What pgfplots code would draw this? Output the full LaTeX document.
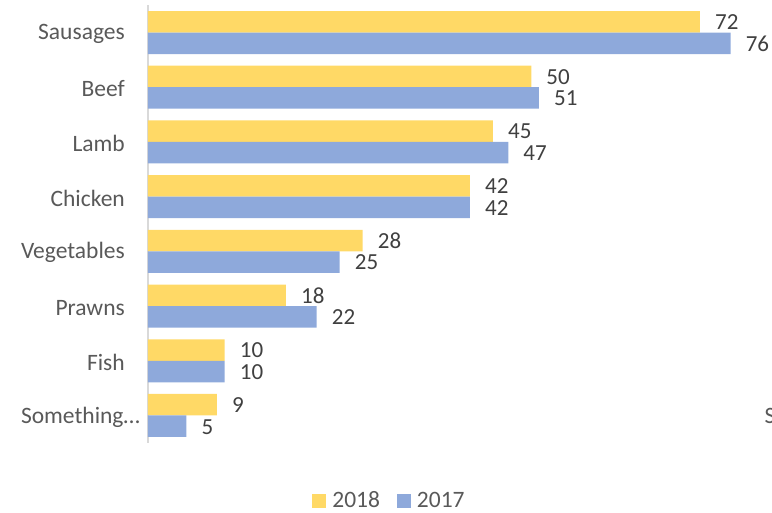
\documentclass[border=0pt]{standalone}
\usepackage{fontspec}
\setmainfont{Carlito}
\usepackage{pgfplots}
\pgfplotsset{compat=1.18}
\definecolor{cy}{HTML}{FFD966}
\definecolor{cb}{HTML}{8EA9DB}
\definecolor{txt}{HTML}{595959}
\definecolor{lbl}{HTML}{404040}
\begin{document}
\begin{tikzpicture}
\path[use as bounding box] (-148pt,-70.15pt) rectangle (624pt,442.85pt);
\begin{axis}[
 scale only axis, width=624pt, height=437.7pt,
 xbar, xmin=0, xmax=81.4, ymin=-0.5, ymax=7.5, y dir=reverse,
 axis x line=none, axis y line*=left,
 y axis line style={draw=black!15, -, line width=1.2pt},
 ytick={0,...,7},
 yticklabels={Sausages,Beef,Lamb,Chicken,Vegetables,Prawns,Fish,Something…\hspace*{-15pt}},
 major tick length=0pt,
 yticklabel style={font=\fontsize{23.5}{28}\selectfont, text=txt, inner sep=0pt, xshift=-23pt, yshift=-1.5pt},
 bar width=21.5pt,
 nodes near coords,
 nodes near coords style={font=\fontsize{23}{26}\selectfont, text=lbl, anchor=west, inner sep=0pt, xshift=15pt, yshift=-0.5pt},
 /pgf/number format/assume math mode=true,
 legend style={at={(0.387,-0.132)}, anchor=center, draw=none, fill=none, legend columns=2,
   font=\fontsize{23.5}{28}\selectfont, text=txt,
   /tikz/every odd column/.append style={column sep=4pt},
   /tikz/every even column/.append style={column sep=15pt}},
 legend image code/.code={\fill[#1] (0pt,-7pt) rectangle (14pt,7pt);},
]
\addplot[fill=cy, draw=none, bar shift=10.75pt] coordinates {(72,0) (50,1) (45,2) (42,3) (28,4) (18,5) (10,6) (9,7)};
\addplot[fill=cb, draw=none, bar shift=-10.75pt] coordinates {(76,0) (51,1) (47,2) (42,3) (25,4) (22,5) (10,6) (5,7)};
\legend{2018,2017}
\node[anchor=west, font=\fontsize{23.5}{28}\selectfont, text=txt, inner sep=0pt] at (axis cs:80.4,7) {S};
\end{axis}
\end{tikzpicture}
\end{document}
